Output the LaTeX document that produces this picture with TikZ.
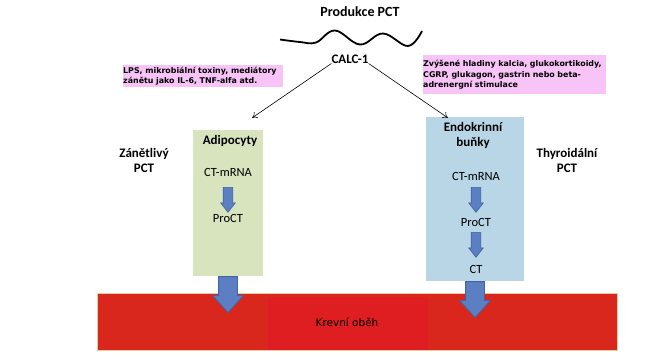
\documentclass[tikz,border=0pt]{standalone}
\usepackage{fontspec}
\setmainfont{Carlito}
\newfontfamily\notefont{DejaVu Sans}
\usetikzlibrary{arrows.meta,positioning,calc,shapes.arrows}
\definecolor{cellgreen}{RGB}{215,228,189}
\definecolor{cellblue}{RGB}{185,214,230}
\definecolor{notepink}{RGB}{248,196,248}
\definecolor{flowblue}{RGB}{91,127,194}
\definecolor{flowedge}{RGB}{66,100,160}
\definecolor{bloodred}{RGB}{217,39,29}
\definecolor{bloodcore}{RGB}{222,30,32}
\definecolor{bloodedge}{RGB}{226,204,160}

\begin{document}
\begin{tikzpicture}[x=1pt,y=-1pt,
      lbl/.style={font=\fontsize{13}{15}\selectfont\bfseries,align=center,inner sep=0pt},
      txt/.style={font=\fontsize{12.5}{15}\selectfont,inner sep=0pt},
      note/.style={fill=notepink,anchor=north west,align=left,inner sep=0pt,
                   font=\notefont\fontsize{7.9}{10.8}\selectfont\bfseries},
      cell/.style={rectangle,inner sep=0pt,draw=none},
      thin arr/.style={-{To[length=5pt,width=7pt]},black,line width=0.6pt},
      bigflow/.style={single arrow,fill=flowblue,draw=flowedge,line width=0.8pt,
                      inner sep=9pt,single arrow head extend=6pt,
                      single arrow tip angle=84,minimum height=36pt,
                      shape border rotate=270,anchor=tail},
      smallflow/.style={single arrow,fill=flowblue,draw=flowedge,line width=0.6pt,
                        inner sep=4.5pt,single arrow head extend=2.5pt,
                        single arrow tip angle=76,minimum height=25pt,
                        shape border rotate=270,anchor=tail}]
    \useasboundingbox (0,0) rectangle (656,357);
    % blood stream
    \node[cell,fill=bloodred,draw=bloodedge,line width=1pt,minimum width=520pt,minimum height=57pt] (blood) at (357,321.5) {};
    \node[cell,fill=bloodcore,minimum width=160pt,minimum height=53pt] (core) at (348,323.5) {};
    \node[font=\notefont\fontsize{10.5}{12}\selectfont,inner sep=0pt] (krev) at (347,322) {Krevní oběh};
    % gene
    \node[lbl,font=\fontsize{14}{16}\selectfont\bfseries] (prod) at (360,12) {Produkce PCT};
    \draw[line width=1.8pt] plot[smooth,tension=0.65] coordinates
      {(280,39.5) (300,42) (316,42.5) (335,30.5) (360,44.5) (383,33.5) (408,46) (422,31)};
    \node[lbl] (calc) at (350,59) {CALC-1};
    % triggers
    \node[note,minimum width=160pt,minimum height=22pt,text width=160pt] (infl) at (123,65)
      {LPS, mikrobiální toxiny, mediátory\\zánětu jako IL-6, TNF-alfa atd.};
    \node[note,minimum width=183pt,minimum height=39pt,text width=183pt] (horm) at (423,55)
      {Zvýšené hladiny kalcia, glukokortikoidy,\\CGRP, glukagon, gastrin nebo beta-\\adrenergní stimulace};
    % cells
    \node[cell,fill=cellgreen,minimum width=70pt,minimum height=146pt] (adipo) at (228,203) {};
    \node[cell,fill=cellblue,minimum width=98pt,minimum height=164pt] (endo) at (475,199) {};
    \node[lbl] (zanet) at (144,160) {Zánětlivý\\PCT};
    \node[lbl] (thyr) at (567,160) {Thyroidální\\PCT};
    \node[lbl] (adt) at (230,141) {Adipocyty};
    \node[txt] (amrna) at (228,172) {CT-mRNA};
    \node[txt] (apro) at (228,218) {ProCT};
    \node[lbl] (edt) at (473,135.5) {Endokrinní\\buňky};
    \node[txt] (emrna) at (476,176) {CT-mRNA};
    \node[txt] (epro) at (476,222) {ProCT};
    \node[txt] (ect) at (476,269) {CT};
    % flows
    \node[smallflow] (af1) at (228,187) {};
    \node[smallflow] (ef1) at (476,187) {};
    \node[smallflow] (ef2) at (476,232) {};
    \node[bigflow] (aout) at (adipo.south) {};
    \node[bigflow] (eout) at (endo.south) {};
    \draw[thin arr] (calc.south west) -- ([xshift=-11pt,yshift=12pt]adipo.north east);
    \draw[thin arr] (calc.south east) -- ([xshift=22pt,yshift=-1pt]endo.north west);
  \end{tikzpicture}
\end{document}
